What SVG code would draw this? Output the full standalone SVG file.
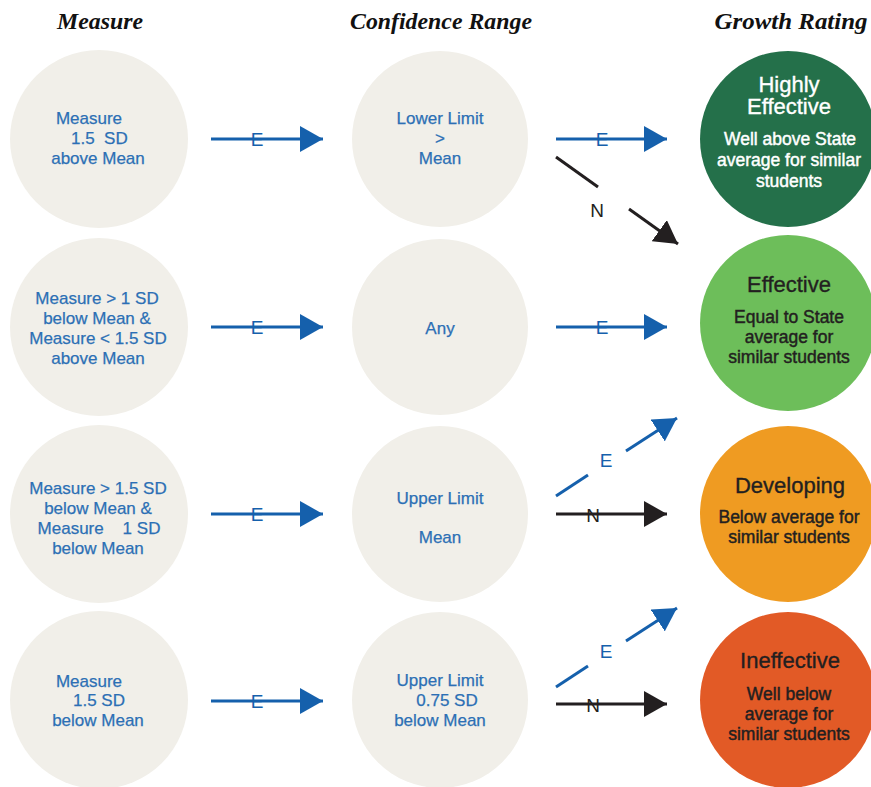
<svg xmlns="http://www.w3.org/2000/svg" width="871" height="787" viewBox="0 0 871 787">
<defs>
<style>
.hdr{font-family:"Liberation Serif","Times New Roman",serif;font-style:italic;font-weight:bold;font-size:23px;fill:#111;text-anchor:middle}
.bg{fill:#F1EFE9}
.bt{font-family:"Liberation Sans",Arial,sans-serif;font-size:17px;fill:#2C6FB5;stroke:#2C6FB5;stroke-width:0.25;text-anchor:middle}
.ttl{font-family:"Liberation Sans",Arial,sans-serif;font-size:22px;text-anchor:middle;stroke-width:0.35}
.sub{font-family:"Liberation Sans",Arial,sans-serif;font-size:17.5px;text-anchor:middle;stroke-width:0.45}
.w{fill:#fff;stroke:#fff}
.d{fill:#231F20;stroke:#231F20}
.lb{font-family:"Liberation Sans",Arial,sans-serif;font-size:19px;text-anchor:middle}
.lbE{fill:#1560AC}
.lbN{fill:#231F20}
.ae{stroke:#1560AC;stroke-width:3;fill:none}
.an{stroke:#231F20;stroke-width:3;fill:none}
</style>
<marker id="hb" markerUnits="userSpaceOnUse" markerWidth="24" markerHeight="26" refX="23" refY="13" orient="auto">
<path d="M0,0 L23,13 L0,26 z" fill="#1560AC"/>
</marker>
<marker id="hn" markerUnits="userSpaceOnUse" markerWidth="24" markerHeight="26" refX="23" refY="13" orient="auto">
<path d="M0,0 L23,13 L0,26 z" fill="#231F20"/>
</marker>
</defs>
<rect width="871" height="787" fill="#fff"/>

<g id="headers">
<text class="hdr" x="100" y="29" textLength="86" lengthAdjust="spacingAndGlyphs">Measure</text>
<text class="hdr" x="441" y="29" textLength="182" lengthAdjust="spacingAndGlyphs">Confidence Range</text>
<text class="hdr" x="791" y="29" textLength="153" lengthAdjust="spacingAndGlyphs">Growth Rating</text>
</g>

<g id="m1"><circle class="bg" cx="99" cy="139" r="89"/>
<text class="bt" x="89" y="124">Measure</text>
<text class="bt" x="71" y="144" style="text-anchor:start" xml:space="preserve">1.5  SD</text>
<text class="bt" x="98" y="164">above Mean</text></g>

<g id="m2"><circle class="bg" cx="99" cy="327" r="89"/>
<text class="bt" x="97" y="304">Measure &gt; 1 SD</text>
<text class="bt" x="97" y="324">below Mean &amp;</text>
<text class="bt" x="98" y="344">Measure &lt; 1.5 SD</text>
<text class="bt" x="98" y="364">above Mean</text></g>

<g id="m3"><circle class="bg" cx="99" cy="514" r="89"/>
<text class="bt" x="98" y="494">Measure &gt; 1.5 SD</text>
<text class="bt" x="98" y="514">below Mean &amp;</text>
<text class="bt" x="99" y="534" xml:space="preserve">Measure    1 SD</text>
<text class="bt" x="98" y="554">below Mean</text></g>

<g id="m4"><circle class="bg" cx="99" cy="700" r="89"/>
<text class="bt" x="89" y="687">Measure</text>
<text class="bt" x="99" y="706">1.5 SD</text>
<text class="bt" x="98" y="726">below Mean</text></g>

<g id="c1"><circle class="bg" cx="440" cy="139" r="88"/>
<text class="bt" x="440" y="124">Lower Limit</text>
<text class="bt" x="440" y="144">&gt;</text>
<text class="bt" x="440" y="164">Mean</text></g>

<g id="c2"><circle class="bg" cx="440" cy="327" r="88"/>
<text class="bt" x="440" y="334">Any</text></g>

<g id="c3"><circle class="bg" cx="440" cy="514" r="88"/>
<text class="bt" x="440" y="504">Upper Limit</text>
<text class="bt" x="440" y="543">Mean</text></g>

<g id="c4"><circle class="bg" cx="440" cy="700" r="88"/>
<text class="bt" x="440" y="686">Upper Limit</text>
<text class="bt" x="447" y="706">0.75 SD</text>
<text class="bt" x="440" y="726">below Mean</text></g>

<g id="g1"><circle cx="788" cy="139" r="88" fill="#24704A"/>
<text class="ttl w"><tspan x="789" y="92">Highly</tspan><tspan x="789" y="114">Effective</tspan></text>
<text class="sub w" x="790" y="145">Well above State</text>
<text class="sub w" x="789" y="166">average for similar</text>
<text class="sub w" x="789" y="187">students</text></g>

<g id="g2"><circle cx="788" cy="323" r="88" fill="#6DBE5A"/>
<text class="ttl d" x="789" y="292">Effective</text>
<text class="sub d" x="789" y="323">Equal to State</text>
<text class="sub d" x="789" y="343">average for</text>
<text class="sub d" x="789" y="363">similar students</text></g>

<g id="g3"><circle cx="788" cy="514" r="88" fill="#EF9B22"/>
<text class="ttl d" x="790" y="493">Developing</text>
<text class="sub d" x="789" y="523">Below average for</text>
<text class="sub d" x="789" y="543">similar students</text></g>

<g id="g4"><circle cx="788" cy="700" r="88" fill="#E25A26"/>
<text class="ttl d" x="790" y="668">Ineffective</text>
<text class="sub d" x="789" y="700">Well below</text>
<text class="sub d" x="789" y="720">average for</text>
<text class="sub d" x="789" y="740">similar students</text></g>

<g id="connectors">
<line class="ae" x1="211" y1="139" x2="323" y2="139" marker-end="url(#hb)"/>
<line class="ae" x1="211" y1="327" x2="323" y2="327" marker-end="url(#hb)"/>
<line class="ae" x1="211" y1="514" x2="323" y2="514" marker-end="url(#hb)"/>
<line class="ae" x1="211" y1="701" x2="323" y2="701" marker-end="url(#hb)"/>
<line class="ae" x1="556" y1="139" x2="667" y2="139" marker-end="url(#hb)"/>
<line class="ae" x1="556" y1="327" x2="667" y2="327" marker-end="url(#hb)"/>
<line class="an" x1="556" y1="157" x2="598" y2="187"/>
<line class="an" x1="629" y1="209" x2="678" y2="244" marker-end="url(#hn)"/>
<line class="ae" x1="556" y1="496" x2="588" y2="475"/>
<line class="ae" x1="626" y1="451" x2="677" y2="418" marker-end="url(#hb)"/>
<line class="an" x1="556" y1="514" x2="667" y2="514" marker-end="url(#hn)"/>
<line class="ae" x1="556" y1="687" x2="588" y2="666"/>
<line class="ae" x1="626" y1="641" x2="677" y2="608" marker-end="url(#hb)"/>
<line class="an" x1="556" y1="704" x2="667" y2="704" marker-end="url(#hn)"/>
<text class="lb lbE" x="257" y="146">E</text>
<text class="lb lbE" x="257" y="334">E</text>
<text class="lb lbE" x="257" y="521">E</text>
<text class="lb lbE" x="257" y="708">E</text>
<text class="lb lbE" x="602" y="146">E</text>
<text class="lb lbE" x="602" y="334">E</text>
<text class="lb lbN" x="597" y="217">N</text>
<text class="lb lbE" x="606" y="467">E</text>
<text class="lb lbN" x="593" y="522">N</text>
<text class="lb lbE" x="606" y="658">E</text>
<text class="lb lbN" x="593" y="712">N</text>
</g>
</svg>
